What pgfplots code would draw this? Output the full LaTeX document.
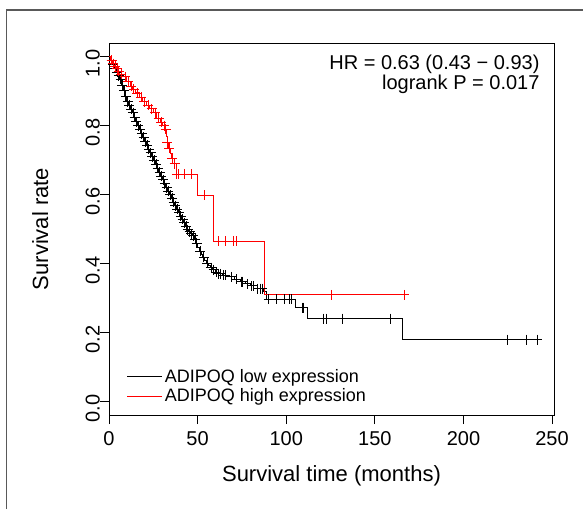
\documentclass[border=0pt]{standalone}
\usepackage{pgfplots}
\pgfplotsset{compat=1.18}
\usepackage{fontspec}
\setmainfont{Liberation Sans}
\pgfplotstableread{
t S
0 1.0
1 0.99
2 0.978
3 0.966
4 0.955
5 0.945
6 0.935
7 0.918
8 0.902
9 0.886
10 0.870
11 0.859
12 0.848
13 0.838
14 0.825
15 0.812
16 0.800
17 0.789
18 0.777
19 0.766
20 0.754
21 0.743
22 0.732
23 0.721
24 0.710
25 0.699
26 0.688
27 0.676
28 0.665
29 0.654
30 0.643
31 0.631
32 0.620
33 0.610
34 0.599
35 0.589
36 0.578
37 0.568
38 0.558
39 0.548
40 0.538
41 0.528
42 0.518
43 0.508
44 0.498
45 0.492
46 0.486
47 0.480
48 0.470
49 0.458
50 0.445
51 0.436
52 0.427
53 0.418
54 0.408
55 0.400
56 0.394
57 0.388
58.5 0.382
60 0.375
61.5 0.370
64 0.366
68 0.361
71 0.354
74 0.347
77 0.341
79.6 0.335
83.5 0.327
87 0.318
89 0.296
105 0.272
112 0.240
165.5 0.179
243.8 0.179
}\lowsteps
\pgfplotstableread{
t S
1.5 0.99
2.5 0.978
3.5 0.966
4.5 0.955
5.5 0.945
6.5 0.935
7.5 0.918
8.5 0.902
9.5 0.886
10.5 0.870
11.5 0.859
12.5 0.848
13.5 0.838
14.5 0.825
15.5 0.812
16.5 0.800
17.5 0.789
18.5 0.777
19.5 0.766
20.5 0.754
21.5 0.743
22.5 0.732
23.5 0.721
24.5 0.710
25.5 0.699
26.5 0.688
27.5 0.676
28.5 0.665
29.5 0.654
30.5 0.643
31.5 0.631
32.5 0.620
33.5 0.610
34.5 0.599
35.5 0.589
36.5 0.578
37.5 0.568
38.5 0.558
39.5 0.548
40.5 0.538
41.5 0.528
42.5 0.518
43.5 0.508
44.5 0.498
45.5 0.492
46.5 0.486
47.5 0.480
48.5 0.470
49.5 0.458
51.5 0.436
53.5 0.418
55.5 0.400
57.5 0.388
59 0.382
60.5 0.375
62 0.370
63 0.370
64.5 0.366
65.5 0.366
69 0.361
72 0.354
74.5 0.347
75.5 0.347
78 0.341
80.5 0.335
81.5 0.335
84 0.327
85.5 0.327
86.5 0.327
90 0.296
94.2 0.296
98.8 0.296
101.6 0.296
102.7 0.296
109 0.272
109.7 0.272
120.8 0.240
122.5 0.240
131.5 0.240
159 0.240
224.6 0.179
235.3 0.179
241.5 0.179
}\lowcens
\pgfplotstableread{
t S
0 1.0
1 0.99
2 0.98
3 0.972
4 0.965
5 0.958
6 0.950
8 0.942
10 0.928
12 0.915
13.5 0.905
15 0.895
17 0.882
19 0.870
21 0.860
23 0.849
25 0.838
27 0.822
28.8 0.810
30 0.800
31.6 0.790
32.3 0.770
32.8 0.750
33.5 0.735
34.4 0.720
35 0.705
36 0.690
38 0.659
49.7 0.598
58.9 0.465
87.5 0.309
168.3 0.309
}\highsteps
\pgfplotstableread{
t S
1.5 0.99
2.5 0.98
3.5 0.972
4.5 0.965
5.5 0.958
7 0.950
9 0.942
11 0.928
12.5 0.915
14 0.905
16 0.895
18 0.882
20 0.870
22 0.860
24 0.849
26 0.838
28 0.822
29.5 0.810
31 0.800
32 0.790
33 0.750
34 0.735
35.5 0.705
37 0.690
38.3 0.659
39.1 0.659
42.8 0.659
46.6 0.659
53.6 0.598
61.6 0.465
65.5 0.465
70 0.465
71.7 0.465
125.3 0.309
166.5 0.309
}\highcens
\begin{document}
\begin{tikzpicture}
\useasboundingbox (0pt,0pt) rectangle (583pt,509pt);
\draw[line width=1.6pt, black!65] (6.5pt,0pt) -- (6.5pt,499pt) -- (583pt,499pt);
\begin{axis}[
  at={(109pt,94pt)}, anchor=south west,
  scale only axis, width=445pt, height=372pt,
  xmin=0, xmax=251.1, ymin=-0.04, ymax=1.04,
  axis line style={line width=0.8pt},
  tick pos=left, tick align=outside,
  tick style={black, line width=0.8pt}, major tick length=9pt,
  xtick={0,50,100,150,200,250}, ytick={0,0.2,0.4,0.6,0.8,1.0},
  /pgf/number format/assume math mode=true,
  yticklabel={\pgfmathprintnumber[fixed,fixed zerofill,precision=1]{\tick}},
  ticklabel style={font=\fontsize{20}{24}\selectfont},
  xticklabel style={inner sep=0pt, anchor=north, yshift=-7pt},
  yticklabel style={rotate=90, anchor=south, inner sep=0pt, xshift=-7pt},
  xlabel={Survival time (months)},
  ylabel={Survival rate},
  label style={font=\fontsize{22}{26}\selectfont},
  xlabel style={at={(axis description cs:0.5,-0.180)}, anchor=base},
  ylabel style={at={(axis description cs:-0.137,0.5)}, anchor=base, rotate=0},
  legend cell align=left,
  legend style={at={(axis description cs:0.04,0.129)}, anchor=north west, draw=none, fill=none,
    font=\fontsize{18}{20}\selectfont, inner sep=0pt, row sep=1pt,
    nodes={inner sep=2pt}},
  legend image code/.code={\draw[#1] (0pt,0pt) -- (35pt,0pt);},
  mark options={solid},
]
\addplot[black, line width=0.9pt, const plot mark left] table[x=t,y=S]{\lowsteps};
\addlegendentry{ADIPOQ low expression}
\addplot[red, line width=0.9pt, const plot mark left] table[x=t,y=S]{\highsteps};
\addlegendentry{ADIPOQ high expression}
\addplot[black, only marks, mark=+, mark size=5pt, line width=0.8pt, forget plot] table[x=t,y=S]{\lowcens};
\addplot[red, only marks, mark=+, mark size=5pt, line width=0.8pt, forget plot] table[x=t,y=S]{\highcens};
\end{axis}
\node[anchor=base east, font=\fontsize{20}{24}\selectfont] at (543pt,439pt) {HR = 0.63 (0.43 − 0.93)};
\node[anchor=base east, font=\fontsize{20}{24}\selectfont] at (543pt,419pt) {logrank P = 0.017};
\end{tikzpicture}
\end{document}
